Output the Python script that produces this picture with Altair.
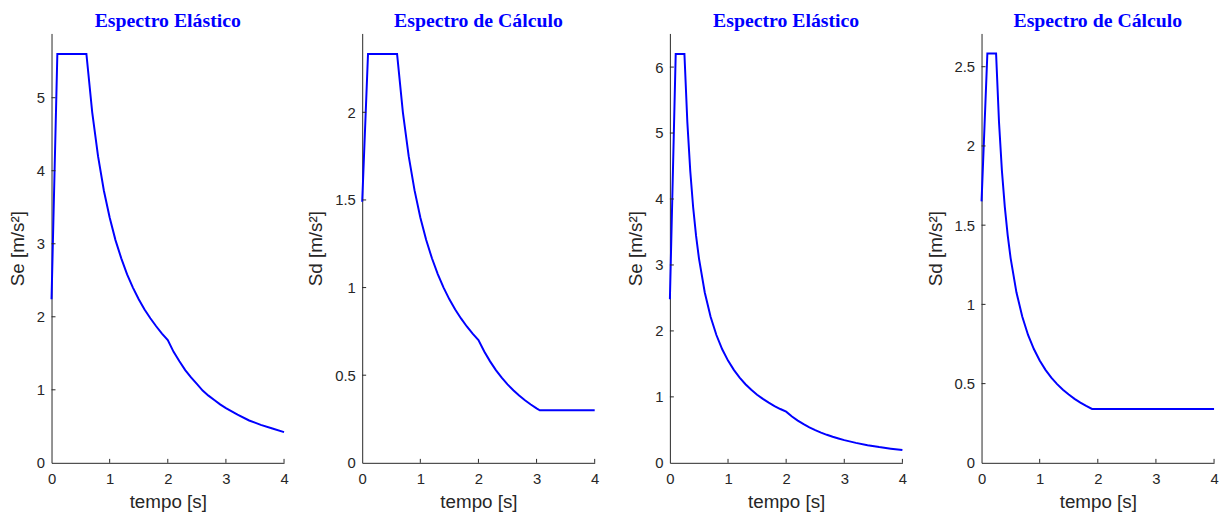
import altair as alt
import pandas as pd

# ---- data ----
# Panel 1: Espectro Elástico (Se)
t1 = [0.0, 0.1, 0.6, 0.7, 0.8, 0.9, 1.0, 1.1, 1.2, 1.3, 1.4, 1.5, 1.6, 1.7, 1.8, 1.9, 2.0,
      2.1, 2.2, 2.3, 2.4, 2.5, 2.6, 2.7, 2.8, 2.9, 3.0, 3.2, 3.4, 3.6, 3.8, 4.0]
v1 = [2.24, 5.6, 5.6, 4.80, 4.20, 3.73, 3.36, 3.05, 2.80, 2.58, 2.40, 2.24, 2.10, 1.98, 1.87, 1.77, 1.68,
      1.52, 1.39, 1.27, 1.17, 1.08, 0.99, 0.92, 0.86, 0.80, 0.75, 0.66, 0.58, 0.52, 0.47, 0.42]

# Panel 2: Espectro de Cálculo (Sd)
t2 = [0.0, 0.1, 0.6, 0.7, 0.8, 0.9, 1.0, 1.1, 1.2, 1.3, 1.4, 1.5, 1.6, 1.7, 1.8, 1.9, 2.0,
      2.1, 2.2, 2.3, 2.4, 2.5, 2.6, 2.7, 2.8, 2.9, 3.0, 3.055, 3.5, 4.0]
v2 = [1.49, 2.333, 2.333, 2.00, 1.75, 1.556, 1.40, 1.273, 1.167, 1.077, 1.00, 0.933, 0.875, 0.824, 0.778, 0.737, 0.70,
      0.635, 0.579, 0.529, 0.486, 0.448, 0.414, 0.384, 0.357, 0.333, 0.311, 0.30, 0.30, 0.30]

# Panel 3: Espectro Elástico (Se)
t3 = [0.0, 0.1, 0.25, 0.3, 0.35, 0.4, 0.45, 0.5, 0.6, 0.7, 0.8, 0.9, 1.0, 1.1, 1.2, 1.3, 1.4, 1.5,
      1.6, 1.7, 1.8, 1.9, 2.0, 2.1, 2.2, 2.3, 2.4, 2.5, 2.6, 2.7, 2.8, 2.9, 3.0, 3.2, 3.4, 3.6, 3.8, 4.0]
v3 = [2.48, 6.2, 6.2, 5.167, 4.429, 3.875, 3.444, 3.10, 2.583, 2.214, 1.938, 1.722, 1.55, 1.409, 1.292, 1.192, 1.107, 1.033,
      0.969, 0.912, 0.861, 0.816, 0.775, 0.703, 0.640, 0.586, 0.538, 0.496, 0.459, 0.425, 0.395, 0.369, 0.344,
      0.303, 0.268, 0.239, 0.215, 0.194]

# Panel 4: Espectro de Cálculo (Sd)
t4 = [0.0, 0.1, 0.25, 0.3, 0.35, 0.4, 0.45, 0.5, 0.6, 0.7, 0.8, 0.9, 1.0, 1.1, 1.2, 1.3, 1.4, 1.5,
      1.6, 1.7, 1.8, 1.9, 3.0, 4.0]
v4 = [1.65, 2.583, 2.583, 2.153, 1.845, 1.615, 1.435, 1.292, 1.076, 0.923, 0.807, 0.718, 0.646, 0.587, 0.538, 0.497, 0.461, 0.431,
      0.404, 0.380, 0.359, 0.34, 0.34, 0.34]

titles = ["Espectro Elástico", "Espectro de Cálculo", "Espectro Elástico", "Espectro de Cálculo"]
ytitles = ["Se [m/s²]", "Sd [m/s²]", "Se [m/s²]", "Sd [m/s²]"]
ymaxs = [5.88, 2.45, 6.51, 2.71]
yticks = [[0, 1, 2, 3, 4, 5], [0, 0.5, 1, 1.5, 2], [0, 1, 2, 3, 4, 5, 6], [0, 0.5, 1, 1.5, 2, 2.5]]
xticks = [0, 1, 2, 3, 4]

W, H = 235, 434
AX = "#262626"


def panel(t, v, title, ytitle, ymax, yt):
    df = pd.DataFrame({"t": t, "v": v})
    xs = alt.Scale(domain=[0, 4], nice=False, zero=False)
    ys = alt.Scale(domain=[0, ymax], nice=False, zero=False)
    xaxis = alt.Axis(values=xticks, title="tempo [s]", labelPadding=9, titlePadding=6, format="~g")
    yaxis = alt.Axis(values=yt, title=ytitle, labelPadding=7, titlePadding=9, format="~g")
    line = alt.Chart(df).mark_line(color="#0000FF", strokeWidth=2).encode(
        x=alt.X("t:Q", scale=xs, axis=xaxis),
        y=alt.Y("v:Q", scale=ys, axis=yaxis),
    )
    xt = alt.Chart(pd.DataFrame({"t": xticks[1:]})).mark_rule(color=AX, strokeWidth=1).encode(
        x=alt.X("t:Q", scale=xs, axis=xaxis),
        y=alt.value(H),
        y2=alt.value(H - 4),
    )
    yt_df = pd.DataFrame({"v": [y for y in yt if y != 0]})
    ytk = alt.Chart(yt_df).mark_rule(color=AX, strokeWidth=1).encode(
        y=alt.Y("v:Q", scale=ys, axis=yaxis),
        x=alt.value(0),
        x2=alt.value(4),
    )
    return alt.layer(line, xt, ytk).properties(
        width=W, height=H,
        title=alt.TitleParams(text=title, font="Liberation Serif", fontSize=20, fontWeight="bold",
                              color="#0000FF", frame="group", anchor="middle", offset=3),
    )


p1 = panel(t1, v1, titles[0], ytitles[0], ymaxs[0], yticks[0])
p2 = panel(t2, v2, titles[1], ytitles[1], ymaxs[1], yticks[1])
p3 = panel(t3, v3, titles[2], ytitles[2], ymaxs[2], yticks[2])
p4 = panel(t4, v4, titles[3], ytitles[3], ymaxs[3], yticks[3])

chart = alt.hconcat(
    alt.hconcat(p1, p2, spacing=18),
    alt.hconcat(p3, p4, spacing=19),
    spacing=27,
).properties(
    padding={"left": 0, "top": 0, "right": 0, "bottom": 0},
    background="white",
).configure_view(
    stroke=None,
).configure_axis(
    domainColor=AX, domainWidth=1, labelColor=AX, titleColor=AX,
    labelFont="Liberation Sans", titleFont="Liberation Sans",
    labelFontSize=15, titleFontSize=19, titleFontWeight="normal",
    ticks=False, grid=False, labelFlush=False, labelOverlap=False,
)

chart.save("out.html", embed_options={"renderer": "svg", "actions": False})
